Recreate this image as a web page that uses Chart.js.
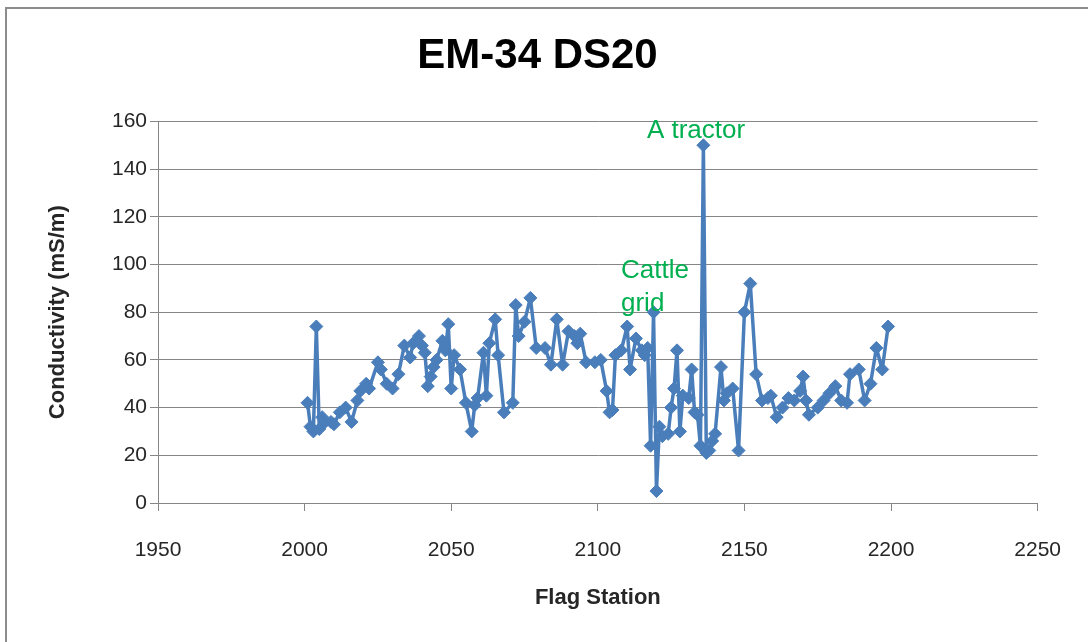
<!DOCTYPE html>
<html>
<head>
<meta charset="utf-8">
<script src="https://cdn.jsdelivr.net/npm/chart.js@4"></script>
<style>
  html, body { margin: 0; padding: 0; background: #ffffff; }
  #wrap { width: 1088px; height: 642px; position: relative; }
</style>
</head>
<body>
<div id="wrap"><canvas id="c" width="1088" height="642"></canvas></div>
<script>
// ---- data ----
const chartTitle = "EM-34 DS20";
const xAxisTitle = "Flag Station";
const yAxisTitle = "Conductivity (mS/m)";

const stations = [
  2001,2002,2003,2004,2005,2006,2007,2009,2010,2012,2014,2016,2018,2019,2021,2022,2025,2026,2028,2030,
  2032,2034,2036,2037,2039,2040,2041,2042,2043,2044,2045,2047,2048,2049,2050,2051,2053,2055,2057,2058,
  2059,2061,2062,2063,2065,2066,2068,2071,2072,2073,2075,2077,2079,2082,2084,2086,2088,2090,2092,2093,
  2094,2096,2099,2101,2103,2104,2105,2106,2108,2110,2111,2113,2115,2116,2117,2118,2119,2120,2121,2122,
  2124,2125,2126,2127,2128,2129,2131,2132,2133,2134,2135,2136,2137,2138,2139,2140,2142,2143,2144,2146,
  2148,2150,2152,2154,2156,2158,2159,2161,2163,2165,2167,2169,2170,2171,2172,2175,2177,2179,2181,2183,
  2185,2186,2189,2191,2193,2195,2197,2199
];
const conductivity = [
  42,32,30,74,31,36,34,34,33,38,40,34,43,47,50,48,59,56,50,48,
  54,66,61,67,70,66,63,49,53,57,60,68,64,75,48,62,56,42,30,41,
  44,63,45,67,77,62,38,42,83,70,76,86,65,65,58,77,58,72,70,67,
  71,59,59,60,47,38,39,62,64,74,56,69,64,62,65,24,80,5,32,28,
  29,40,48,64,30,45,44,56,38,37,24,150,21,22,26,29,57,43,46,48,
  22,80,92,54,43,44,45,36,40,44,43,47,53,43,37,40,43,46,49,43,
  42,54,56,43,50,65,56,74
];
const xTicks = [1950, 2000, 2050, 2100, 2150, 2200, 2250];
const yTicks = [0, 20, 40, 60, 80, 100, 120, 140, 160];

// text notes, anchored in data units
const noteTexts = ["A tractor", "Cattle", "grid"];
const noteStations = [2133.5, 2107.9, 2107.9];
const noteValues = [156, 97.5, 83.5];
const noteAligns = ["center", "left", "left"];

// ---- chart ----
const points = stations.map((s, i) => ({ x: s, y: conductivity[i] }));
const BLUE = "#4A7EBB";
const GRID = "#868686";
const FONT = "'Liberation Sans', Arial, sans-serif";

const framePlugin = {
  id: "frame",
  beforeDraw(chart) {
    const ctx = chart.ctx;
    ctx.save();
    ctx.fillStyle = "#ffffff";
    ctx.fillRect(0, 0, chart.width, chart.height);
    ctx.strokeStyle = "#8c8c8c";
    ctx.lineWidth = 2;
    ctx.strokeRect(6, 8, chart.width + 20, chart.height + 20);
    ctx.restore();
  }
};

const notesPlugin = {
  id: "notes",
  afterDatasetsDraw(chart) {
    const ctx = chart.ctx;
    const xs = chart.scales.x, ys = chart.scales.y;
    ctx.save();
    ctx.fillStyle = "#00B050";
    ctx.font = "26px " + FONT;
    ctx.textBaseline = "middle";
    noteTexts.forEach((t, i) => {
      ctx.textAlign = noteAligns[i];
      ctx.fillText(t, xs.getPixelForValue(noteStations[i]), ys.getPixelForValue(noteValues[i]));
    });
    ctx.restore();
  }
};

new Chart(document.getElementById("c"), {
  type: "line",
  data: {
    datasets: [{
      data: points,
      borderColor: BLUE,
      backgroundColor: BLUE,
      borderWidth: 3.5,
      borderJoinStyle: "round",
      borderCapStyle: "round",
      pointStyle: "rectRot",
      pointRadius: 6.5,
      pointBorderWidth: 1,
      pointBackgroundColor: BLUE,
      pointBorderColor: BLUE,
      tension: 0,
      fill: false
    }]
  },
  options: {
    responsive: false,
    devicePixelRatio: 1,
    animation: false,
    layout: { padding: { left: 32, right: 45, top: 8, bottom: 0 } },
    plugins: {
      legend: { display: false },
      tooltip: { enabled: false },
      title: {
        display: true,
        text: chartTitle,
        color: "#000000",
        font: { family: FONT, size: 42, weight: "bold" },
        padding: { top: 23, bottom: 40 }
      }
    },
    scales: {
      x: {
        type: "linear",
        min: 1950, max: 2250,
        afterBuildTicks(scale) { scale.ticks = xTicks.map(v => ({ value: v })); },
        afterFit(scale) { scale.height = 139; },
        grid: { drawOnChartArea: false, drawTicks: true, tickLength: 8, color: GRID, lineWidth: 1 },
        border: { display: true, color: GRID, width: 1 },
        ticks: {
          color: "#262626", font: { family: FONT, size: 21 }, padding: 27, maxRotation: 0,
          callback: (v) => String(v)
        },
        title: {
          display: true, text: xAxisTitle, color: "#262626",
          font: { family: FONT, size: 22, weight: "bold" },
          padding: { top: 0, bottom: 31 }
        }
      },
      y: {
        type: "linear",
        min: 0, max: 160,
        afterBuildTicks(scale) { scale.ticks = yTicks.map(v => ({ value: v })); },
        afterFit(scale) { scale.width = 126; },
        grid: { drawOnChartArea: true, drawTicks: true, tickLength: 8, color: GRID, lineWidth: 1 },
        border: { display: true, color: GRID, width: 1 },
        ticks: { color: "#262626", font: { family: FONT, size: 21 }, padding: 3, callback: (v) => String(v) },
        title: {
          display: true, text: yAxisTitle, color: "#262626",
          font: { family: FONT, size: 22, weight: "bold" },
          padding: { top: 13, bottom: 0 }
        }
      }
    }
  },
  plugins: [framePlugin, notesPlugin]
});
</script>
</body>
</html>
